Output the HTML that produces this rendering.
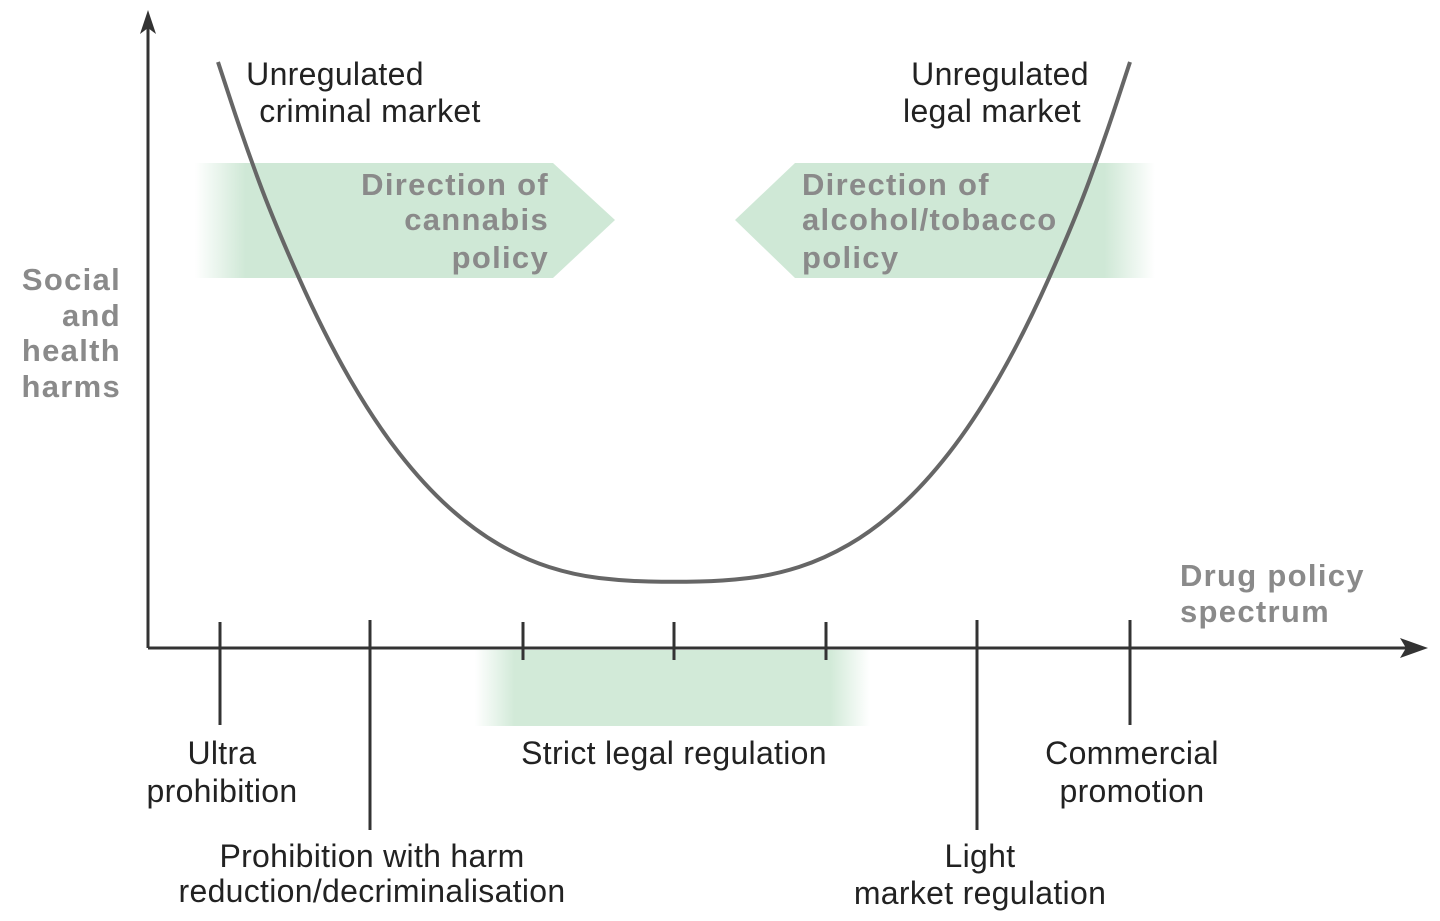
<!DOCTYPE html>
<html><head><meta charset="utf-8"><style>
html,body{margin:0;padding:0;background:#fff;width:1440px;height:921px;overflow:hidden}
svg{display:block}
.g{font-family:"Liberation Sans",sans-serif;font-weight:bold;fill:#8a8a8a;font-size:31px;letter-spacing:1.3px}
.b{font-family:"Liberation Sans",sans-serif;fill:#222;font-size:32px;letter-spacing:0.3px}
</style></head><body>
<svg width="1440" height="921" viewBox="0 0 1440 921" xmlns="http://www.w3.org/2000/svg">
<defs>
<linearGradient id="lg" x1="0" x2="1" y1="0" y2="0">
<stop offset="0" stop-color="#cfe8d6" stop-opacity="0"/><stop offset="0.12" stop-color="#cfe8d6"/><stop offset="1" stop-color="#cfe8d6"/></linearGradient>
<linearGradient id="rg" x1="0" x2="1" y1="0" y2="0">
<stop offset="0" stop-color="#cfe8d6"/><stop offset="0.88" stop-color="#cfe8d6"/><stop offset="1" stop-color="#cfe8d6" stop-opacity="0"/></linearGradient>
<linearGradient id="bg" x1="0" x2="1" y1="0" y2="0">
<stop offset="0" stop-color="#d2ead8" stop-opacity="0"/><stop offset="0.1" stop-color="#d2ead8"/><stop offset="0.9" stop-color="#d2ead8"/><stop offset="1" stop-color="#d2ead8" stop-opacity="0"/></linearGradient>
</defs>
<polygon points="195,163 553,163 615,220 553,278 195,278" fill="url(#lg)"/>
<polygon points="1155,163 795,163 735,220 795,278 1155,278" fill="url(#rg)"/>
<rect x="475" y="650" width="395" height="76" fill="url(#bg)"/>
<path fill="none" stroke="#666" stroke-width="4" d="M218,62 L231,101.5 Q244,141 259,181.5 Q274,222 299,278 Q324,334 349,377.5 Q374,421 399,453 Q424,485 449,507.5 Q474,530 499,544.5 Q524,559 549,567 Q574,575 599,578 Q624,581 649,581.5 Q674,582 699,581.5 Q724,581 749,578 Q774,575 799,567 Q824,559 849,544.5 Q874,530 899,507.5 Q924,485 949,453 Q974,421 999,377.5 Q1024,334 1049,278 Q1074,222 1089,181.5 Q1104,141 1117,101.5 L1130,62"/>
<line x1="148" y1="18" x2="148" y2="648" stroke="#333" stroke-width="3"/>
<polygon points="148,10 140,34 148,28 156,34" fill="#333"/>
<line x1="148" y1="648" x2="1418" y2="648" stroke="#333" stroke-width="3"/>
<polygon points="1428,648 1400,638 1406,648 1400,658" fill="#333"/>
<g stroke="#333" stroke-width="3">
<line x1="220" y1="622" x2="220" y2="725"/>
<line x1="370" y1="620" x2="370" y2="830"/>
<line x1="523" y1="622" x2="523" y2="660"/>
<line x1="674" y1="622" x2="674" y2="660"/>
<line x1="826" y1="622" x2="826" y2="660"/>
<line x1="977" y1="620" x2="977" y2="830"/>
<line x1="1130" y1="620" x2="1130" y2="725"/>
</g>
<g class="g" text-anchor="end">
<text x="121" y="290">Social</text><text x="121" y="326">and</text><text x="121" y="361">health</text><text x="121" y="397">harms</text>
<text x="549" y="195">Direction of</text><text x="549" y="230">cannabis</text><text x="549" y="268">policy</text>
</g>
<g class="g">
<text x="802" y="195">Direction of</text><text x="802" y="230">alcohol/tobacco</text><text x="802" y="268">policy</text>
<text x="1180" y="586">Drug policy</text><text x="1180" y="622">spectrum</text>
</g>
<g class="b" text-anchor="middle">
<text x="335" y="85">Unregulated</text><text x="370" y="122">criminal market</text>
<text x="1000" y="85">Unregulated</text><text x="992" y="122">legal market</text>
<text x="222" y="764">Ultra</text><text x="222" y="802">prohibition</text>
<text x="372" y="867">Prohibition with harm</text><text x="372" y="902">reduction/decriminalisation</text>
<text x="674" y="764">Strict legal regulation</text>
<text x="1132" y="764">Commercial</text><text x="1132" y="802">promotion</text>
<text x="980" y="867">Light</text><text x="980" y="904">market regulation</text>
</g>
</svg>
</body></html>
